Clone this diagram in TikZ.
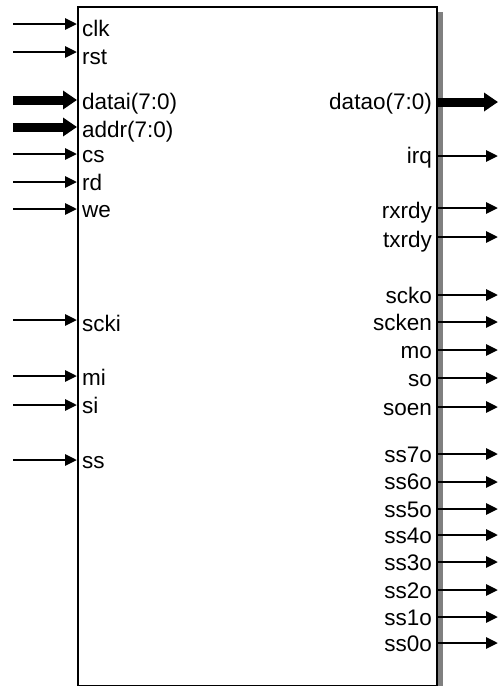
\documentclass[tikz,border=0pt]{standalone}
\usepackage{fontspec}
\setmainfont{Liberation Sans}
\usetikzlibrary{arrows.meta}
\definecolor{shadowgray}{RGB}{128,128,128}
\begin{document}
\begin{tikzpicture}[x=1pt,y=-1pt,
  lbl/.style={inner sep=0pt, font=\fontsize{22.5}{26}\selectfont},
  thinwire/.style={line width=2.8pt, -{Triangle[length=12pt,width=11pt]}},
  buswire/.style={line width=9pt, -{Triangle[length=14pt,width=18pt]}}]
\useasboundingbox (0,0) rectangle (499,686);
\fill[shadowgray] (436,12) rectangle (443,690);
\node[draw, line width=1.6pt, inner sep=0pt, minimum width=359pt, minimum height=679pt, anchor=north west] (blk) at (77,6) {};
% left thin inputs
\foreach \n/\w/\b in {clk/24/36, rst/52/64, cs/154/162, rd/182/190, we/209/217, scki/320/331, mi/376/385, si/405/413, ss/460/468}{
  \coordinate (\n-s) at (13,\w);
  \draw[thinwire] (\n-s) -- (\n-s -| blk.west);
  \node[lbl, anchor=base west] (\n) at (82,\b) {\n};
}
% left bus inputs
\coordinate (datai-s) at (13,100);
\draw[buswire] (datai-s) -- (datai-s -| blk.west);
\node[lbl, anchor=base west] (datai) at (82,109) {datai(7:0)};
\coordinate (addr-s) at (13,127);
\draw[buswire] (addr-s) -- (addr-s -| blk.west);
\node[lbl, anchor=base west] (addr) at (82,137) {addr(7:0)};
% right bus output
\coordinate (datao-e) at (498,102);
\draw[buswire] (datao-e -| blk.east) -- (datao-e);
\node[lbl, anchor=base east] (datao) at (432,109) {datao(7:0)};
% right thin outputs
\foreach \n/\w/\b in {irq/156/163, rxrdy/208/218, txrdy/237/247, scko/295/303, scken/322/330, mo/350/358, so/378/386, soen/407/415, ss7o/454/462, ss6o/482/489, ss5o/509/517, ss4o/535/543, ss3o/562/570, ss2o/590/598, ss1o/617/625, ss0o/643/651}{
  \coordinate (\n-e) at (498,\w);
  \draw[thinwire] (\n-e -| blk.east) -- (\n-e);
  \node[lbl, anchor=base east] (\n) at (432,\b) {\n};
}
\end{tikzpicture}
\end{document}
